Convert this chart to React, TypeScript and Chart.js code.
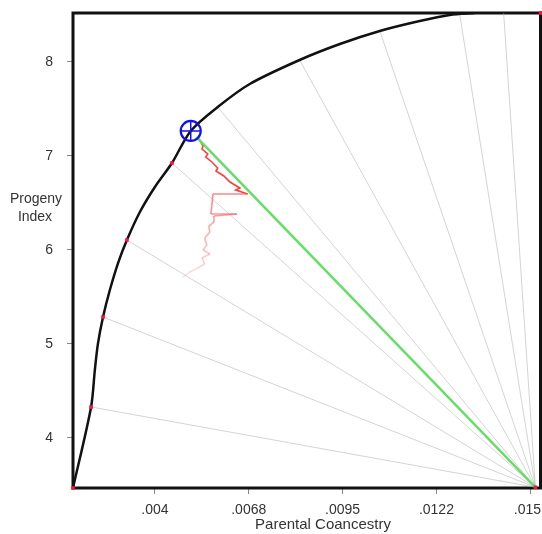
import React, { useEffect, useRef } from "react";
import { Chart, registerables } from "chart.js";
Chart.register(...registerables);

// Axis setup
const xRange = [0.0016, 0.0153];
const yRange = [3.467, 8.52];
const xTickValues = [0.004, 0.00675, 0.0095, 0.01225, 0.015];
const xTickLabels = [".004", ".0068", ".0095", ".0122", ".015"];
const yTickValues = [4, 5, 6, 7, 8];
const xTitle = "Parental Coancestry";
const yTitleLines = ["Progeny", "Index"];

// Frontier curve
const frontierX = [0.0016, 0.00213, 0.00224, 0.00233, 0.00248, 0.00268, 0.00292, 0.00318, 0.00356, 0.004, 0.0045, 0.00505, 0.00584, 0.00678, 0.00824, 0.00942, 0.01059, 0.01176, 0.01264, 0.01337];
const frontierY = [3.467, 4.329, 4.722, 5.0, 5.286, 5.573, 5.86, 6.105, 6.403, 6.669, 6.924, 7.265, 7.52, 7.765, 8.02, 8.19, 8.329, 8.435, 8.499, 8.52];

// Red marker points
const redDotX = [0.0016, 0.00213, 0.00248, 0.00318, 0.0045, 0.0153, 0.01515];
const redDotY = [3.467, 4.329, 5.286, 6.105, 6.924, 8.52, 3.475];

// Selected point (blue target)
const selectedX = [0.00505];
const selectedY = [7.265];

// Fan of grey lines from origin to the frontier
const fanOriginX = 0.01515;
const fanOriginY = 3.475;
const fanEndX = [0.00213, 0.00248, 0.00318, 0.0045, 0.00584, 0.00824, 0.01059, 0.01293, 0.01422];
const fanEndY = [4.329, 5.286, 6.105, 6.924, 7.52, 8.02, 8.33, 8.51, 8.52];

// Green line
const greenX = [0.00522, 0.01515];
const greenY = [7.2, 3.475];

// Red search path
const pathX = [0.00529, 0.00541, 0.00538, 0.00555, 0.00549, 0.00567, 0.00584, 0.00579, 0.00602, 0.0062, 0.00649, 0.00637, 0.00672, 0.0057, 0.00567, 0.00564, 0.0064, 0.00573, 0.00573, 0.00558, 0.00561, 0.00546, 0.00552, 0.00541, 0.00561, 0.00538, 0.00546, 0.00526, 0.00502, 0.00482];
const pathY = [7.18, 7.105, 7.073, 7.02, 6.988, 6.935, 6.871, 6.839, 6.786, 6.722, 6.658, 6.637, 6.594, 6.594, 6.477, 6.382, 6.382, 6.36, 6.297, 6.254, 6.19, 6.126, 6.052, 5.999, 5.956, 5.914, 5.85, 5.807, 5.765, 5.711];

const zip = (xs: number[], ys: number[]) => xs.map((x, i) => ({ x, y: ys[i] }));

const FONT = '"Liberation Sans", Arial, sans-serif';

const framePlugin = {
  id: "frame",
  beforeDatasetsDraw(chart: any) {
    const { ctx, chartArea } = chart;
    ctx.save();
    ctx.strokeStyle = "#111";
    ctx.lineWidth = 3;
    ctx.strokeRect(chartArea.left, chartArea.top, chartArea.right - chartArea.left, chartArea.bottom - chartArea.top);
    ctx.restore();
  },
  afterDraw(chart: any) {
    const { ctx, chartArea } = chart;
    const xs = chart.scales.x;
    ctx.save();
    ctx.fillStyle = "#333";
    ctx.textAlign = "center";
    ctx.textBaseline = "middle";
    ctx.font = `14px ${FONT}`;
    xTickValues.forEach((v, i) => {
      const w = ctx.measureText(xTickLabels[i]).width;
      const px = Math.min(xs.getPixelForValue(v), chart.width - 1 - w / 2);
      ctx.fillText(xTickLabels[i], px, chartArea.bottom + 22);
    });
    ctx.fillText(yTitleLines[0], 36, 199);
    ctx.fillText(yTitleLines[1], 35, 217);
    ctx.font = `15px ${FONT}`;
    ctx.fillText(xTitle, chartArea.left + 250, 525);
    ctx.restore();
  },
};

export default function App() {
  const ref = useRef<HTMLCanvasElement | null>(null);
  useEffect(() => {
    if (!ref.current) return;
    const fanSets = fanEndX.map((x, i) => ({
      label: "fan" + i,
      data: [{ x, y: fanEndY[i] }, { x: fanOriginX, y: fanOriginY }],
      showLine: true,
      borderColor: "rgba(170,170,170,0.5)",
      borderWidth: 1,
      pointRadius: 0,
      order: 10,
    }));
    const chart = new Chart(ref.current, {
      type: "scatter",
      data: {
        datasets: [
          {
            label: "selected",
            data: zip(selectedX, selectedY),
            pointStyle: "circle",
            pointRadius: 10,
            borderColor: "#1010f0",
            backgroundColor: "rgba(0,0,0,0)",
            borderWidth: 2.2,
            order: 0,
            clip: false,
          } as any,
          {
            label: "selectedCross",
            data: zip(selectedX, selectedY),
            pointStyle: "cross",
            pointRadius: 10,
            borderColor: "#1010f0",
            borderWidth: 1.5,
            order: 0,
          } as any,
          {
            label: "dots",
            data: zip(redDotX, redDotY),
            pointStyle: "rect",
            pointRadius: 2.5,
            backgroundColor: "#ff1040",
            borderColor: "#ff1040",
            borderWidth: 0,
            order: 1,
            clip: false,
          } as any,
          {
            label: "frontier",
            data: zip(frontierX, frontierY),
            showLine: true,
            borderColor: "#111",
            borderWidth: 2.5,
            tension: 0.3,
            pointRadius: 0,
            order: 2,
          } as any,
          {
            label: "green",
            data: zip(greenX, greenY),
            showLine: true,
            borderColor: "#66dd66",
            borderWidth: 2.5,
            pointRadius: 0,
            order: 3,
          } as any,
          {
            label: "path",
            data: zip(pathX, pathY),
            showLine: true,
            borderWidth: 1.6,
            pointRadius: 0,
            borderColor: "rgba(255,40,40,0.9)",
            segment: {
              borderColor: (c: any) => {
                const i = c.p0DataIndex;
                const a = i < 12 ? 0.9 : Math.max(0.18, 0.75 - (i - 12) * 0.035);
                return `rgba(255,${i < 12 ? 40 : 90},${i < 12 ? 40 : 100},${a})`;
              },
            },
            order: 4,
          } as any,
          ...fanSets,
        ],
      },
      options: {
        animation: false,
        responsive: false,
        devicePixelRatio: 1,
        layout: { autoPadding: false, padding: { top: 13, right: 1.5, left: 0, bottom: 0 } },
        plugins: { legend: { display: false }, tooltip: { enabled: false } },
        scales: {
          x: {
            type: "linear",
            min: xRange[0],
            max: xRange[1],
            afterBuildTicks: (s: any) => {
              s.ticks = xTickValues.map((v) => ({ value: v }));
            },
            afterFit: (s: any) => {
              s.height = 46;
              s.paddingLeft = 0;
              s.paddingRight = 0;
            },
            ticks: { display: false },
            grid: { display: true, drawOnChartArea: false, drawTicks: true, tickLength: 6, color: "#888" },
            border: { display: false },
          },
          y: {
            type: "linear",
            min: yRange[0],
            max: yRange[1],
            afterBuildTicks: (s: any) => {
              s.ticks = yTickValues.map((v) => ({ value: v }));
            },
            afterFit: (s: any) => {
              s.width = 73;
              s.paddingTop = 0;
              s.paddingBottom = 0;
            },
            ticks: {
              callback: (v: any) => String(v),
              color: "#333",
              font: { family: FONT, size: 14 },
              padding: 14,
              autoSkip: false,
            },
            grid: { display: true, drawOnChartArea: false, drawTicks: true, tickLength: 6, color: "#888" },
            border: { display: false },
          },
        },
      } as any,
      plugins: [framePlugin],
    });
    return () => chart.destroy();
  }, []);
  return (
    <div style={{ position: "absolute", left: 0, top: 0, width: 542, height: 534, background: "#fff" }}>
      <canvas ref={ref} width={542} height={534} style={{ display: "block" }} />
    </div>
  );
}
